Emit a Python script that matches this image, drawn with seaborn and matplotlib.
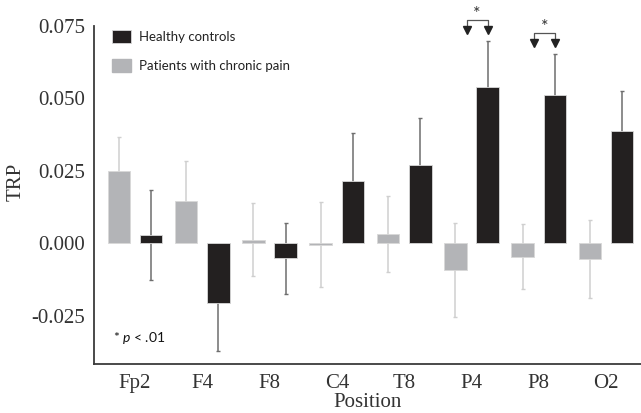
import pandas as pd
import matplotlib
matplotlib.use("Agg")
import matplotlib.pyplot as plt
import matplotlib.patches as mpatches
import seaborn as sns
import numpy as np

# Data
positions = ["Fp2", "F4", "F8", "C4", "T8", "P4", "P8", "O2"]
patients_mean = [0.0249, 0.0145, 0.0012, -0.0005, 0.0030, -0.0093, -0.0047, -0.0055]
patients_err = [0.0118, 0.0137, 0.0126, 0.0148, 0.0131, 0.0162, 0.0113, 0.0133]
healthy_mean = [0.0028, -0.0208, -0.0053, 0.0214, 0.0269, 0.0539, 0.0511, 0.0385]
healthy_err = [0.0154, 0.0163, 0.0123, 0.0164, 0.0163, 0.0158, 0.0141, 0.0138]
significant = ["P4", "P8"]

groups = ["Patients with chronic pain", "Healthy controls"]
gray_col = "#b3b4b7"
black_col = "#231f20"

data = pd.DataFrame({
    "Position": positions * 2,
    "TRP": patients_mean + healthy_mean,
    "err": patients_err + healthy_err,
    "Group": [groups[0]] * len(positions) + [groups[1]] * len(positions),
})

sns.set_style("white")
plt.rcParams["font.family"] = ["Liberation Serif", "DejaVu Serif"]
plt.rcParams["mathtext.fontset"] = "custom"
plt.rcParams["mathtext.rm"] = "Lato"
plt.rcParams["mathtext.it"] = "Lato:italic"

fig = plt.figure(figsize=(6.41, 4.13), dpi=100)
ax = fig.add_axes([94 / 641, 49 / 413, 547 / 641, 364 / 413])

sns.barplot(x="Position", y="TRP", hue="Group", data=data, order=positions,
            hue_order=groups, palette=[gray_col, black_col], width=0.96, gap=0.3,
            errorbar=None, edgecolor="#d8d8d8", linewidth=0.6, legend=False,
            zorder=3, ax=ax)

# Error bars centred on each bar (drawn beneath the bars)
bars = ax.patches[:2 * len(positions)]
centers = {}
for i, g in enumerate(groups):
    sub = data[data["Group"] == g]
    xs = [b.get_x() + b.get_width() / 2 for b in bars[i * len(positions):(i + 1) * len(positions)]]
    centers[g] = xs
    ecol = "#cfcfcf" if i == 0 else "#6e6e6e"
    ax.errorbar(xs, sub["TRP"], yerr=sub["err"], fmt="none", ecolor=ecol,
                elinewidth=1.1, capsize=1.5, capthick=1.0, zorder=2)

# Significance brackets
for pos in significant:
    k = positions.index(pos)
    gbar = bars[k]
    x_left = gbar.get_x() + gbar.get_width()
    x_right = centers[groups[1]][k]
    top = healthy_mean[k] + healthy_err[k]
    tip = top + 0.0025
    br = tip + 0.0047
    ax.plot([x_left, x_left, x_right, x_right], [tip + 0.002, br, br, tip + 0.002],
            color="#555555", lw=0.9, zorder=4, clip_on=False)
    ax.plot([x_left, x_right], [tip + 0.0012, tip + 0.0012], ls="none", marker="v",
            ms=6, color="#222222", zorder=4, clip_on=False)
    ax.text((x_left + x_right) / 2, br - 0.0006, "*", ha="center", va="bottom",
            fontsize=13, family="Lato", color="#333333")

ax.set_xlim(-0.61, 7.52)
ax.set_ylim(-0.0417, 0.0838)
ax.set_yticks([-0.025, 0.0, 0.025, 0.05, 0.075])
ax.set_yticklabels(["-0.025", "0.000", "0.025", "0.050", "0.075"])

for s in ["top", "right"]:
    ax.spines[s].set_visible(False)
ax.spines["left"].set_bounds(-0.0417, 0.075)
for s in ["left", "bottom"]:
    ax.spines[s].set_color("#3a3a3a")
    ax.spines[s].set_linewidth(1.3)

ax.tick_params(axis="both", which="both", direction="out", length=3.5, width=1,
               color="#555555", labelsize=15, labelcolor="#333333", pad=3)
ax.tick_params(axis="x", pad=4)
ax.set_xlabel("Position", fontsize=15, color="#333333", labelpad=0)
ax.set_ylabel("TRP", fontsize=15, color="#333333", labelpad=4)

handles = [mpatches.Patch(facecolor=black_col, edgecolor="#d8d8d8", lw=0.6),
           mpatches.Patch(facecolor=gray_col, edgecolor=gray_col)]
ax.legend(handles, ["Healthy controls", "Patients with chronic pain"],
          loc="upper left", bbox_to_anchor=(0.021, 0.935), frameon=False,
          prop={"family": "Lato", "size": 9.5}, handlelength=1.45,
          handleheight=1.15, handletextpad=0.6, labelspacing=1.2, borderpad=0,
          labelcolor="#222222")

ax.text(0.035, 0.072, r"* $\it{p}$ < .01", transform=ax.transAxes, fontsize=10,
        family="Lato", color="#111111", va="center", ha="left")

fig.savefig("out.png", dpi=100)
